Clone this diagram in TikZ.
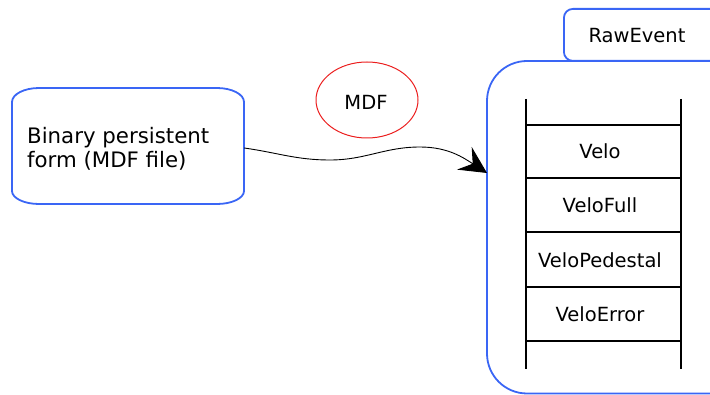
\documentclass[tikz,border=0pt]{standalone}
\usepackage{fontspec}
\setmainfont{DejaVu Sans}
\usetikzlibrary{arrows.meta,shapes.geometric}
\definecolor{boxblue}{RGB}{58,102,245}
\definecolor{ellred}{RGB}{235,30,30}
\tikzset{
  blueline/.style={draw=boxblue,line width=1.8pt},
  ladder/.style={draw=black,line width=2pt},
  lbl/.style={font=\fontsize{19.5}{24}\selectfont,inner sep=0pt},
}
\begin{document}
\begin{tikzpicture}[x=1pt,y=1pt]
\useasboundingbox (0,0) rectangle (710,394);
\clip (0,0) rectangle (710,394);
% left box outline (elliptical corners)
\draw[blueline] (12,292) arc[start angle=180,end angle=90,x radius=27,y radius=14]
  -- (217,306) arc[start angle=90,end angle=0,x radius=27,y radius=14]
  -- (244,203) arc[start angle=0,end angle=-90,x radius=27,y radius=13]
  -- (39,190) arc[start angle=270,end angle=180,x radius=27,y radius=13] -- cycle;
\node[minimum width=232pt,minimum height=116pt,inner sep=0pt] (src) at (128,248) {};
\node[lbl,font=\fontsize{21.3}{24}\selectfont,align=left,anchor=west] (srctxt) at (27,245) {Binary persistent\\form (MDF file)};
% MDF ellipse
\node[ellipse,draw=ellred,line width=1pt,minimum width=102pt,minimum height=76pt,inner sep=0pt] (mdf) at (367,294) {};
\node[lbl] (mdftxt) at (366,292) {MDF};
% big container
\node[blueline,rounded corners=40pt,minimum width=273pt,minimum height=332.5pt,inner sep=0pt] (raw) at (623.5,166.75) {};
% RawEvent tab
\node[blueline,rounded corners=9pt,minimum width=200pt,minimum height=52pt,inner sep=0pt,anchor=north west] (tab) at (563,386) {};
\node[lbl,anchor=base] (tabtxt) at (637,351) {RawEvent};
% ladder
\coordinate (l1) at (526,295); \coordinate (l2) at (526,25);
\coordinate (r1) at (681,295); \coordinate (r2) at (681,25);
\draw[ladder] (l1) -- (l2);
\draw[ladder] (r1) -- (r2);
\foreach \y/\n in {269/a,215.5/b,162/c,106.5/d,53/e}{
  \coordinate (rl\n) at (526,\y); \coordinate (rr\n) at (681,\y);
  \draw[ladder] (rl\n) -- (rr\n);
}
\node[lbl,anchor=base] (c1) at (600,235) {Velo};
\node[lbl,anchor=base] (c2) at (600,181) {VeloFull};
\node[lbl,anchor=base] (c3) at (600,126.5) {VeloPedestal};
\node[lbl,anchor=base] (c4) at (600,72) {VeloError};
% wavy arrow
\coordinate (tip) at (487,221);
\draw[line width=0.9pt,-{Stealth[length=27pt,width=27pt,inset=10pt]}]
  ([yshift=-2pt]src.east) to[out=-8,in=180] (330,234) to[out=0,in=180] (420,247) to[out=0,in=147] (tip);
\end{tikzpicture}
\end{document}
